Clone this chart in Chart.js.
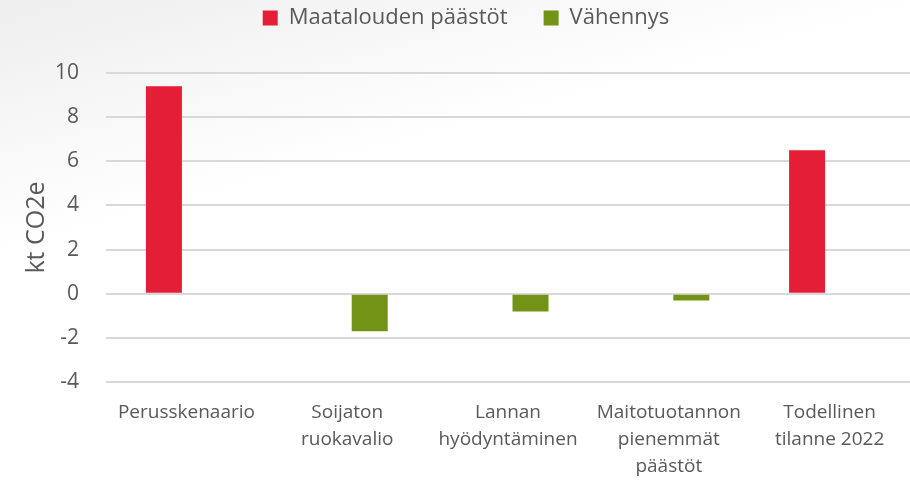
<!DOCTYPE html>
<html>
<head>
<meta charset="utf-8">
<script src="https://cdn.jsdelivr.net/npm/chart.js@4"></script>
<style>
  html, body { margin: 0; padding: 0; }
  body {
    width: 910px; height: 480px; overflow: hidden;
    background: linear-gradient(165deg, #eeeeee 0%, #ffffff 35%, #ffffff 100%);
  }
  #chart { display: block; }
</style>
</head>
<body>
<canvas id="chart" width="910" height="480"></canvas>
<script>
// Categories (multi-line labels as in the source)
const categories = [
    ['Perusskenaario'],
    ['Soijaton', 'ruokavalio'],
    ['Lannan', 'hyödyntäminen'],
    ['Maitotuotannon', 'pienemmät', 'päästöt'],
    ['Todellinen', 'tilanne 2022']
];

// Series values, kt CO2e
const emissions = [9.4, null, null, null, 6.5];
const reductions = [null, -1.7, -0.8, -0.3, null];

const yTicks = [-4, -2, 0, 2, 4, 6, 8, 10];

const textColor = '#595959';
const fontFamily = '"Open Sans", "Noto Sans", sans-serif';

// extra room under the legend, and nudge it a bit right
const legendMargin = {
    id: 'legendMargin',
    beforeInit(chart) {
        const fit = chart.legend.fit;
        chart.legend.fit = function () {
            fit.bind(chart.legend)();
            this.height += 34;
        };
    },
    afterLayout(chart) {
        chart.legend.left += 22;
    }
};

const ctx = document.getElementById('chart').getContext('2d');
new Chart(ctx, {
    type: 'bar',
    data: {
        labels: categories,
        datasets: [{
            label: 'Maatalouden päästöt',
            data: emissions,
            backgroundColor: '#e31e36'
        }, {
            label: 'Vähennys',
            data: reductions,
            backgroundColor: '#739317'
        }]
    },
    options: {
        responsive: false,
        animation: false,
        categoryPercentage: 0.56,
        barPercentage: 0.8,
        layout: {
            // negative top pulls the legend up, its padding also spaces the items apart
            padding: { left: 0, right: 0, top: -29, bottom: -17 }
        },
        plugins: {
            legend: {
                position: 'top',
                labels: {
                    color: textColor,
                    font: { family: fontFamily, size: 22 },
                    boxWidth: 15,
                    boxHeight: 15,
                    padding: 36
                }
            },
            tooltip: { enabled: false }
        },
        scales: {
            x: {
                grid: { display: false, drawTicks: false },
                border: { display: false },
                ticks: {
                    color: textColor,
                    font: { family: fontFamily, size: 19, lineHeight: 1.42 },
                    padding: 17,
                    maxRotation: 0,
                    autoSkip: false
                }
            },
            y: {
                min: yTicks[0],
                max: yTicks[yTicks.length - 1],
                afterBuildTicks: axis => {
                    axis.ticks = yTicks.map(v => ({ value: v }));
                },
                grid: {
                    color: '#d9d9d9',
                    lineWidth: 2,
                    drawTicks: false
                },
                border: { display: false },
                ticks: {
                    color: textColor,
                    font: { family: fontFamily, size: 21 },
                    padding: 27
                },
                title: {
                    display: true,
                    text: 'kt CO2e',
                    color: textColor,
                    font: { family: fontFamily, size: 25, lineHeight: 1.2 },
                    padding: { top: 22, bottom: -24 }
                }
            }
        }
    },
    plugins: [legendMargin]
});
</script>
</body>
</html>
